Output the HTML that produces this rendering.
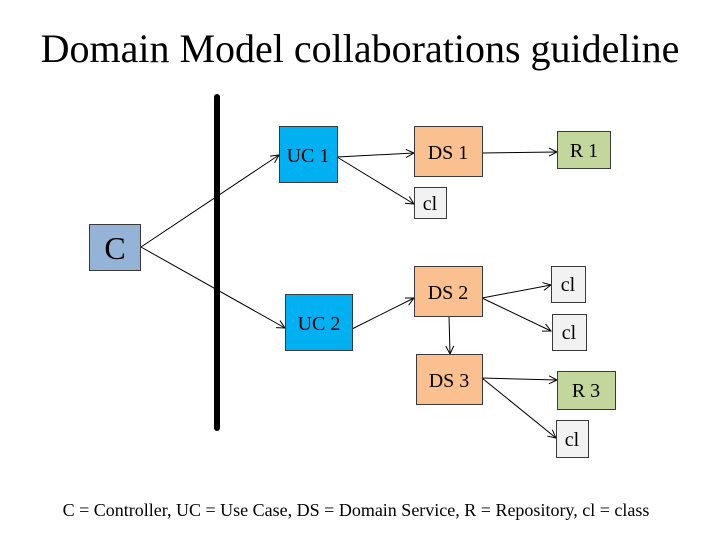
<!DOCTYPE html>
<html><head><style>
body{margin:0;width:720px;height:540px;background:#fff;overflow:hidden}
svg{display:block}
text{font-family:"Liberation Serif",serif;fill:#000}
</style></head><body>
<svg width="720" height="540" viewBox="0 0 720 540">
<defs><marker id="a" markerWidth="10" markerHeight="10" refX="9" refY="5" orient="auto" markerUnits="userSpaceOnUse"><path d="M1,1 L9,5 L1,9" fill="none" stroke="#000" stroke-width="1"/></marker></defs>
<text x="360" y="62" font-size="40" text-anchor="middle">Domain Model collaborations guideline</text>
<line x1="217" y1="97" x2="217" y2="428" stroke="#000" stroke-width="6" stroke-linecap="round"/>
<g stroke="#000" stroke-width="1" fill="none" marker-end="url(#a)">
<line x1="141" y1="247" x2="279" y2="155"/>
<line x1="141" y1="247" x2="285" y2="328"/>
<line x1="337" y1="157" x2="414" y2="153"/>
<line x1="337" y1="157" x2="414" y2="204"/>
<line x1="482" y1="153" x2="557" y2="152"/>
<line x1="352" y1="329" x2="414" y2="298"/>
<line x1="482" y1="298" x2="551" y2="285"/>
<line x1="482" y1="298" x2="551" y2="331"/>
<line x1="449" y1="316" x2="450" y2="354"/>
<line x1="482" y1="378" x2="557" y2="380"/>
<line x1="482" y1="378" x2="556" y2="438"/>
</g>
<g stroke="#3a3a3a" stroke-width="1">
<rect x="89.5" y="224.5" width="51" height="46" fill="#95b3d7"/>
<rect x="279.5" y="126.5" width="58" height="56" fill="#00b0f0"/>
<rect x="285.5" y="294.5" width="67" height="56" fill="#00b0f0"/>
<rect x="414.5" y="126.5" width="68" height="50" fill="#fac090"/>
<rect x="414.5" y="266.5" width="68" height="50" fill="#fac090"/>
<rect x="416.5" y="354.5" width="66" height="50" fill="#fac090"/>
<rect x="557.5" y="131.5" width="53" height="37" fill="#c3d69b"/>
<rect x="557.5" y="371.5" width="58" height="38" fill="#c3d69b"/>
<rect x="414.5" y="187.5" width="32" height="31" fill="#f2f2f2"/>
<rect x="551.5" y="266.5" width="34" height="36" fill="#f2f2f2"/>
<rect x="552.5" y="314.5" width="34" height="36" fill="#f2f2f2"/>
<rect x="556.5" y="420.5" width="32" height="37" fill="#f2f2f2"/>
</g>
<g font-size="20" text-anchor="middle">
<text x="115" y="259" font-size="32">C</text>
<text x="308" y="162">UC 1</text>
<text x="319" y="330">UC 2</text>
<text x="448" y="159">DS 1</text>
<text x="448" y="299">DS 2</text>
<text x="449" y="387">DS 3</text>
<text x="584" y="157">R 1</text>
<text x="586" y="397">R 3</text>
<text x="430" y="210">cl</text>
<text x="568" y="291">cl</text>
<text x="569" y="339">cl</text>
<text x="572" y="446">cl</text>
</g>
<text x="356" y="516" font-size="18" text-anchor="middle">C = Controller, UC = Use Case, DS = Domain Service, R = Repository, cl = class</text>
</svg>
</body></html>
